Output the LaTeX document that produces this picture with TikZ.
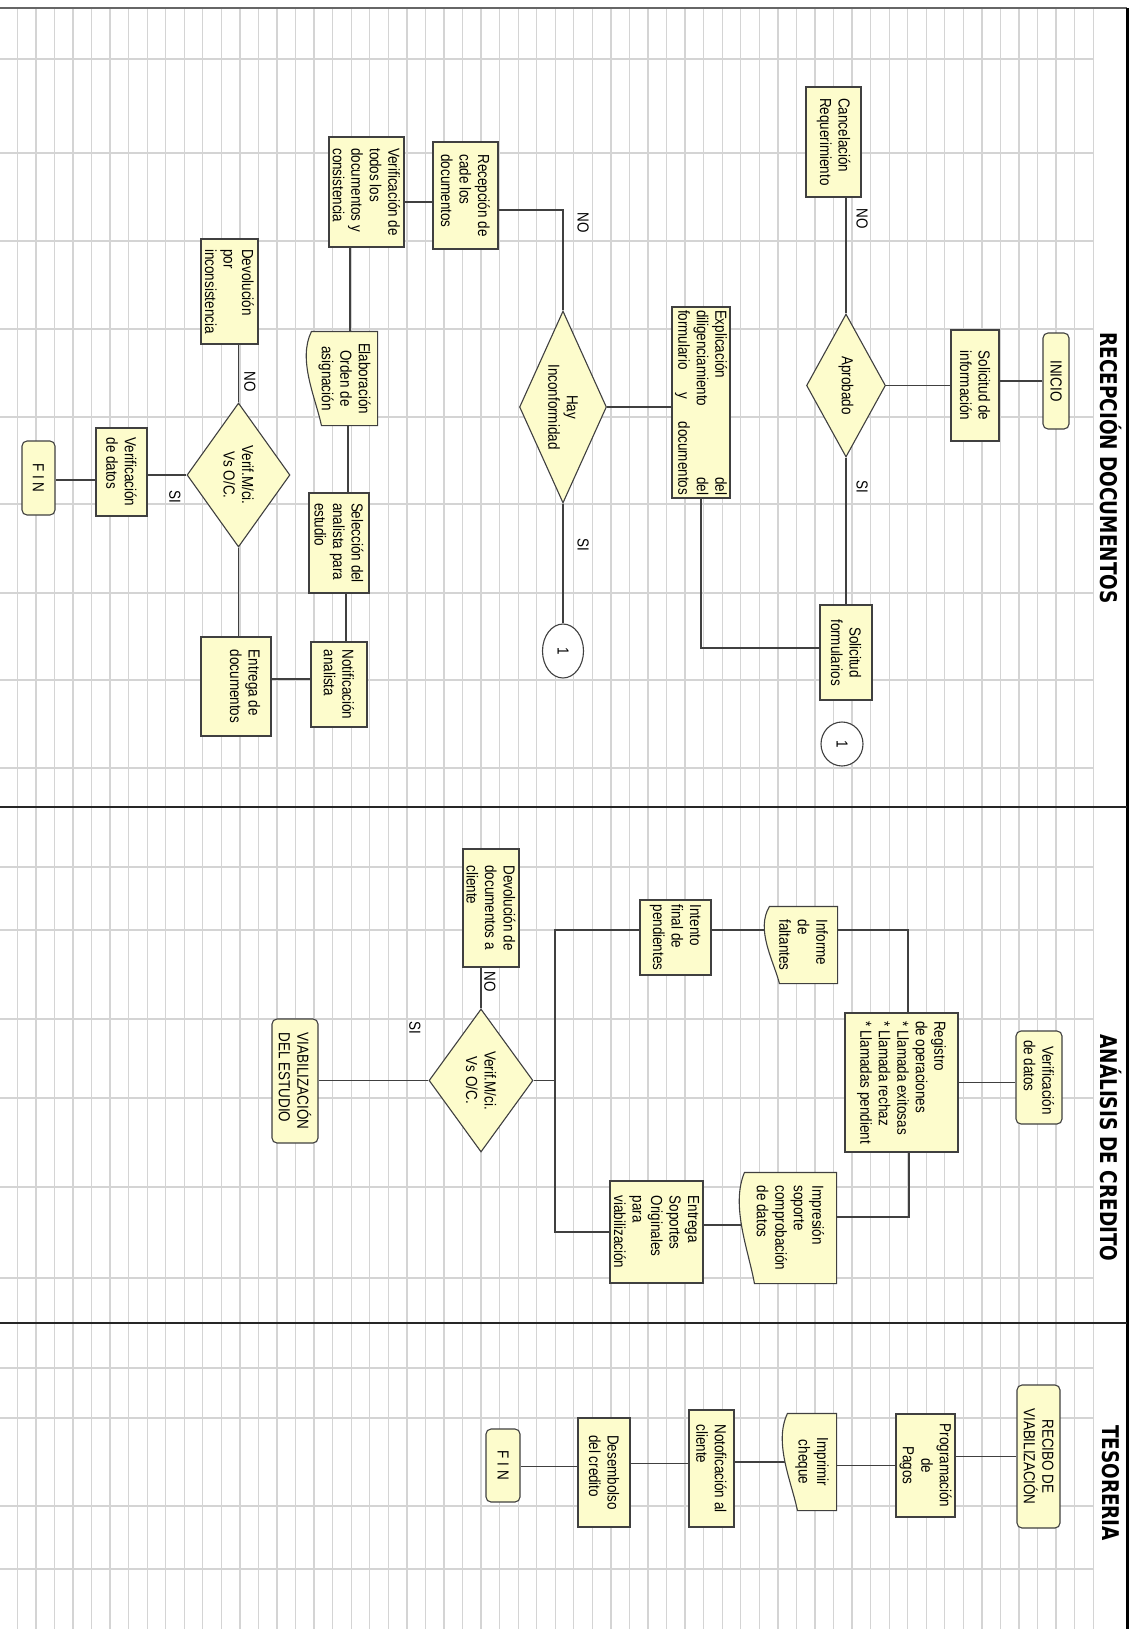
\documentclass[tikz,border=0pt]{standalone}
\usepackage{fontspec}
\setmainfont{Liberation Sans}[FakeStretch=0.84]
\newfontfamily\lanefam{DejaVu Sans}[FakeStretch=0.8]
\usetikzlibrary{calc,shapes.geometric}
\definecolor{note}{RGB}{253,252,204}
\definecolor{edge}{RGB}{64,64,64}
\definecolor{gridgray}{RGB}{212,212,212}
\newcommand\bxfont{\fontsize{16}{18.5}\selectfont}
\newcommand\lnfont{\lanefam\bfseries\fontsize{23}{26}\selectfont}
\pgfdeclarelayer{grid}
\pgfdeclarelayer{wire}
\pgfdeclarelayer{paper}
\pgfsetlayers{grid,wire,paper,main}

\begin{document}
\begin{tikzpicture}[x=1pt, y=-1pt,
	shp/.style={rotate=-90, font=\bxfont, draw=edge, fill=note, line width=1.1pt, inner sep=2pt, align=left},
	sz/.style 2 args={minimum width=#1pt, minimum height=#2pt},
	box/.style={shp, rectangle},
	rbox/.style={shp, rectangle, rounded corners=5pt},
	doc/.style={shp, rectangle, draw=none, fill=none},
	dec/.style={shp, diamond, aspect=2, inner sep=0pt, align=center},
	conn/.style={shp, ellipse, fill=white, inner sep=0pt},
	tag/.style={rotate=-90, font=\bxfont, inner sep=0pt},
	lane/.style={rotate=-90, font=\lnfont, inner sep=0pt},
	link/.style={draw=edge, line width=1.1pt},
	paperline/.style={draw=edge, fill=note, line width=1.1pt}]
	\useasboundingbox (0,0) rectangle (1136,1629);
	% background grid and lanes
	\begin{pgfonlayer}{grid}
		\fill[white] (0,0) rectangle (1136,1629);
		\foreach \k in {0,...,58}
			\draw[gridgray, line width=1.3pt] ({17.3+18.55*\k},8) -- ({17.3+18.55*\k},1629);
		\foreach \h in {59,153,241,329,417,504,593,680,768,867,930,1019,1098,1187,1278,1368,1418,1506,1569}
			\draw[gridgray, line width=1.3pt] (0,\h) -- (1093,\h);
		\draw[gray!80!black, line width=1.5pt] (0,8) -- (1127,8);
		\draw[black, line width=3pt] (1127,8) -- (1127,1629);
		\foreach \h in {807,1323}
			\draw[black!85, line width=2.5pt] (0,\h) -- (1127,\h);
	\end{pgfonlayer}
	\node[lane] (hdRec) at (1111,468) {RECEPCIÓN DOCUMENTOS};
	\node[lane] (hdAna) at (1111,1148) {ANÁLISIS DE CREDITO};
	\node[lane] (hdTes) at (1111,1483) {TESORERIA};

	% recepcion documentos
	\node[rbox, sz={96}{26}, align=center] (inicio) at (1056,381) {INICIO};
	\node[box, sz={111}{48}, align=center] (solinfo) at (975,385.5) {Solicitud de\\información};
	\node[dec, sz={143}{79}] (aprob) at (846,385.5) {Aprobado};
	\node[box, sz={110}{55}] (cancel) at (833.5,142) {Cancelación\\Requerimiento};
	\node[box, sz={95}{52}, align=center] (solform) at (846,652.5) {Solicitud\\formularios};
	\node[conn, sz={44}{42}] (con1a) at (842,744) {1};
	\node[box, sz={191}{58}, text width=185pt] (expl) at (701,402.5) {Explicación\hfill del\\diligenciamiento\hfill del\\formulario\hfill y\hfill documentos};
	\node[dec, sz={192}{87}] (hay) at (563,407) {Hay\\Inconformidad};
	\node[conn, sz={54}{41}] (con1b) at (563,651) {1};
	\node[box, sz={107}{65}] (recep) at (465.5,195.5) {Recepción de\\cade los\\documentos};
	\node[box, sz={110}{75}] (verif) at (366.5,192) {Verificación de\\todos los\\documentos y\\consistencia};
	\node[doc, sz={93}{65}, align=center] (elab) at (344.5,378.5) {Elaboración\\Orden de\\asignación};
	\node[box, sz={100}{60}] (selec) at (339,543) {Selección del\\analista para\\estudio};
	\node[box, sz={85}{56}] (notif) at (339,684.5) {Notificación\\analista};
	\node[box, sz={99}{70}] (entrega) at (236,686.5) {Entrega de\\documentos\\~};
	\node[box, sz={105}{57}] (devol) at (229.5,291.5) {Devolución\\por\\inconsistencia};
	\node[dec, sz={144}{103}] (verif2) at (238.5,475) {Verif.M/ci.\\Vs O/C.};
	\node[box, sz={88}{51}] (verdat) at (121.5,472) {Verificación\\de datos};
	\node[rbox, sz={74}{33}, align=center] (fin1) at (38.5,478) {F I N};
	\node[tag] (lbNo1) at (862,219) {NO};
	\node[tag] (lbSi1) at (862,487) {SI};
	\node[tag] (lbNo2) at (583,223) {NO};
	\node[tag] (lbSi2) at (583,545) {SI};
	\node[tag] (lbNo3) at (250,382) {NO};
	\node[tag] (lbSi3) at (175,497) {SI};

	% analisis de credito
	\node[rbox, sz={93}{46}] (verdat2) at (1039,1077.5) {\hspace*{6pt}Verificación\\de datos};
	\node[box, sz={139}{113}] (registro) at (901.5,1082.5) {Registro\\de operaciones\\* Llamada exitosas\\* Llamada rechaz\\* Llamadas pendient};
	\node[doc, sz={76}{67}] (informe) at (803.5,945) {Informe\\de\\faltantes};
	\node[doc, sz={110}{91}] (impres) at (790.5,1228) {Impresión\\soporte\\comprobación\\de datos};
	\node[box, sz={75}{71}] (intento) at (675.5,937.5) {Intento\\final de\\pendientes};
	\node[box, sz={102}{93}] (entsop) at (656.5,1232) {Entrega\\Soportes\\Originales\\para\\viabilización};
	\node[box, sz={118}{56}] (devdoc) at (491,908) {Devolución de\\documentos a\\cliente};
	\node[dec, sz={143}{104}] (verif3) at (481,1080.5) {Verif.M/ci.\\Vs O/C.};
	\node[rbox, sz={124}{46}] (viab) at (295,1081) {VIABILIZACIÓN\\DEL ESTUDIO};
	\node[tag] (lbNo4) at (490,982) {NO};
	\node[tag] (lbSi4) at (415,1028) {SI};
	\coordinate (fork) at (555,1080.5);

	% tesoreria
	\node[rbox, sz={143}{43}, align=center] (recibo) at (1038.5,1456.5) {RECIBO DE\\VIABILIZACIÓN};
	\node[box, sz={103}{59}, align=center] (prog) at (925.5,1465.5) {Programación\\de\\Pagos};
	\node[doc, sz={96}{48}, align=center] (cheque) at (812,1462) {Imprimir\\cheque};
	\node[box, sz={117}{45}] (notcli) at (711.5,1468.5) {Notoficación al\\cliente};
	\node[box, sz={109}{52}] (desemb) at (604,1472.5) {Desembolso\\del credito};
	\node[rbox, sz={73}{34}, align=center] (fin2) at (503,1465.5) {F I N};

	% document symbols
	\begin{pgfonlayer}{paper}
		\foreach \n in {elab,informe,impres,cheque} {
			\coordinate (wa) at ($(\n.south west)!0.3!(\n.south east)$);
			\coordinate (wb) at ($(\n.south west)!0.7!(\n.south east)$);
			\draw[paperline] (\n.north west) -- (\n.north east) -- ($(\n.south east)!10pt!(\n.north east)$)
				.. controls ($(wb)!4pt!90:(\n.south east)$) and ($(wa)!14pt!-90:(\n.south east)$) .. (\n.south west) -- cycle;
		}
	\end{pgfonlayer}

	% connectors
	\begin{pgfonlayer}{wire}
		\draw[link] (inicio.south) -- (inicio.south -| solinfo.north);
		\draw[link] (solinfo.south) -- (solinfo.south -| aprob.north);
		\draw[link] (aprob.west) -- (aprob.west |- cancel.east);
		\draw[link] (aprob.east) -- (aprob.east |- solform.west);
		\draw[link] (expl.east) |- ([yshift=4.5pt]solform.south);
		\draw[link] (hay.north) -- (hay.north -| expl.south);
		\draw[link] (hay.west) |- ([yshift=-14.5pt]recep.north);
		\draw[link] (hay.east) -- (con1b.west);
		\draw[link] ([yshift=-6.5pt]recep.south) -- ([yshift=-6.5pt]recep.south -| verif.north);
		\draw[link] ([xshift=-16.5pt]verif.east) -- ([xshift=-16.5pt]verif.east |- elab.west);
		\draw[link] ([xshift=3.5pt]elab.east) -- ([xshift=3.5pt]elab.east |- selec.west);
		\draw[link] ([xshift=7pt]selec.east) -- ([xshift=7pt]selec.east |- notif.west);
		\draw[link] ([yshift=5.5pt]notif.south) -- ([yshift=5.5pt]notif.south -| entrega.north);
		\draw[link] (verif2.east) -- (verif2.east |- entrega.west);
		\draw[link] (verif2.west) -- (verif2.west |- devol.east);
		\draw[link] (verif2.south) -- (verif2.south -| verdat.north);
		\draw[link] ([yshift=-8pt]verdat.south) -- ([yshift=-8pt]verdat.south -| fin1.north);

		\draw[link] (registro.north) -- (registro.north -| verdat2.south);
		\draw[link] ([yshift=15pt]informe.north) -| ([xshift=6.5pt]registro.west);
		\draw[link] ([yshift=7.5pt]intento.north) -- ([yshift=7.5pt]intento.north -| informe.south);
		\draw[link] ([xshift=7.5pt]registro.east) |- ([yshift=11pt]impres.north);
		\draw[link] ([yshift=7pt]entsop.north) -- ([yshift=7pt]entsop.north -| impres.south);
		\draw[link] (verif3.north) -- (fork);
		\draw[link] ([yshift=7.5pt]intento.south) -| (fork);
		\draw[link] (entsop.south) -| (fork);
		\draw[link] (verif3.west) -- (verif3.west |- devdoc.east);
		\draw[link] (verif3.south) -- (verif3.south -| viab.north);

		\draw[link] (recibo.south) -- (recibo.south -| prog.north);
		\draw[link] (prog.south) -- (prog.south -| cheque.north);
		\draw[link] (cheque.south) -- (cheque.south -| notcli.north);
		\draw[link] ([yshift=5pt]notcli.south) -- ([yshift=5pt]notcli.south -| desemb.north);
		\draw[link] ([yshift=6pt]desemb.south) -- ([yshift=6pt]desemb.south -| fin2.north);
	\end{pgfonlayer}
\end{tikzpicture}
\end{document}
